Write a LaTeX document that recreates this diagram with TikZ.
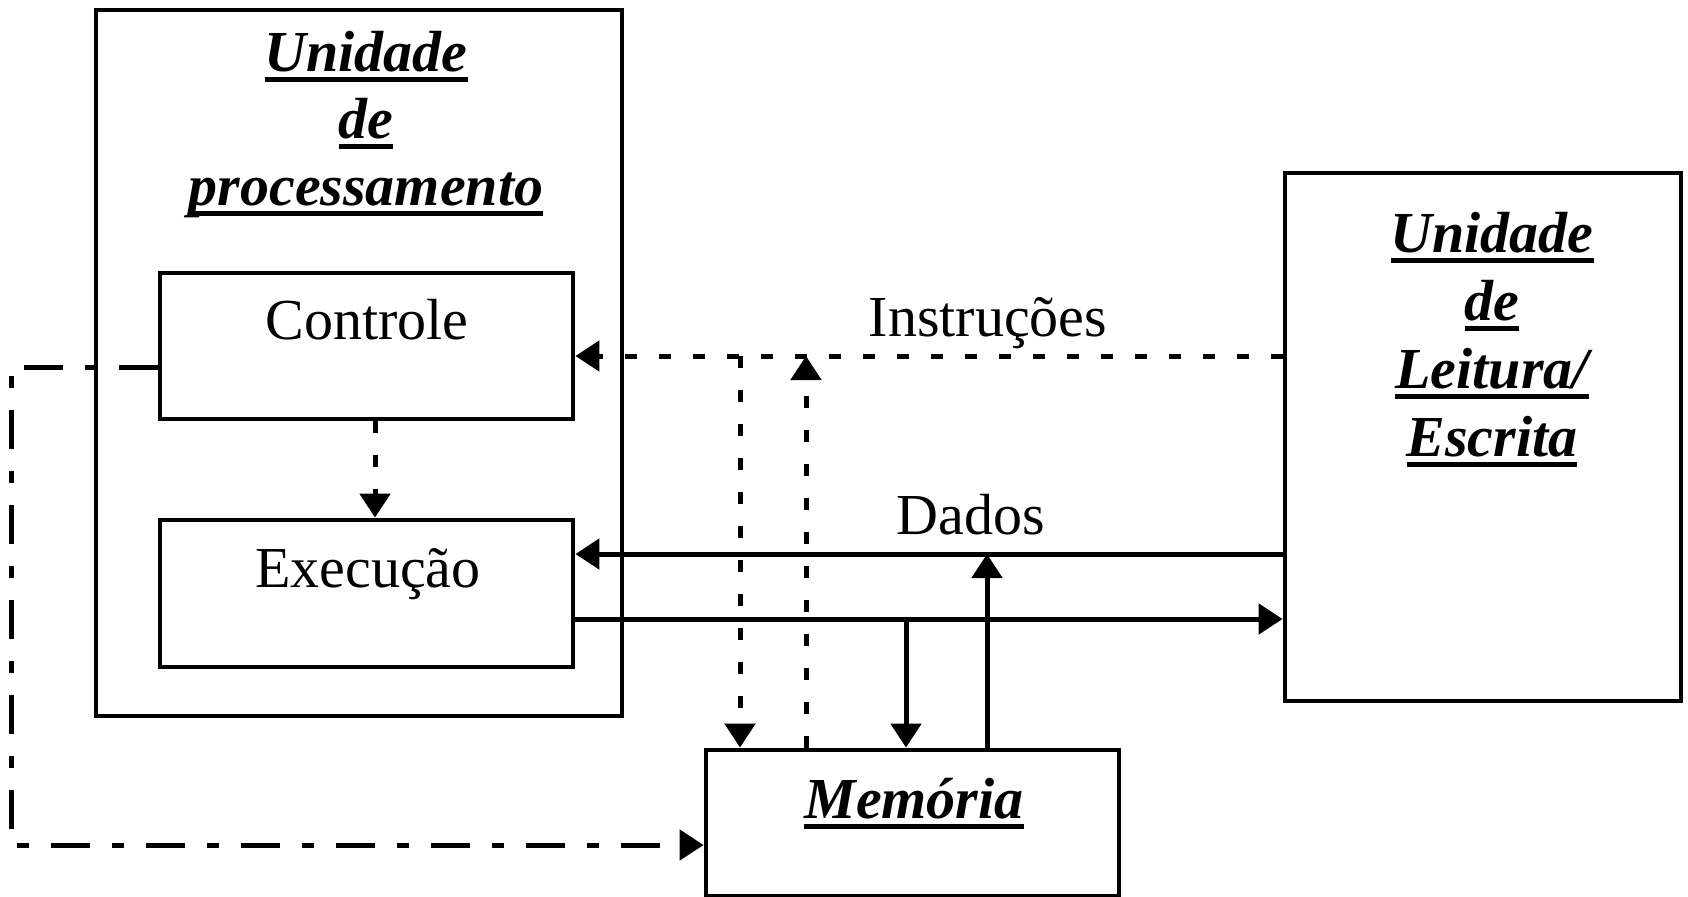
\documentclass[tikz,border=0pt]{standalone}
\usepackage{fontspec}
\setmainfont{Liberation Serif}
\usetikzlibrary{arrows.meta}

% underlined heading word with a heavy rule under the baseline
\newcommand\ulbox[1]{\setbox0\hbox{#1}\rlap{\rule[-5.6pt]{\wd0}{2.4pt}}\box0}

\begin{document}
\begin{tikzpicture}[x=0.5pt,y=-0.5pt,
  box/.style={draw,line width=2.4pt,rectangle,inner sep=0pt},
  lbl/.style={inner sep=0pt,anchor=base,font=\fontsize{29}{34}\selectfont},
  ttl/.style={inner sep=0pt,anchor=base,font=\fontsize{29}{34}\selectfont\bfseries\itshape},
  conn/.style={line width=2.5pt,-{Triangle[length=12pt,width=15pt]}},
  dotline/.style={conn,dash pattern=on 6pt off 11pt},
  dashdotline/.style={conn,dash pattern=on 19.5pt off 11pt on 6pt off 11pt},
]
\useasboundingbox (0,0) rectangle (1688,896);

% boxes
\node[box,minimum width=263pt,minimum height=353pt] (pu) at (359,363) {};
\node[box,minimum width=206.5pt,minimum height=73pt] (ctrl) at (366.5,346) {};
\node[box,minimum width=206.5pt,minimum height=73.5pt] (exec) at (366.5,593.5) {};
\node[box,minimum width=198pt,minimum height=264pt] (rw) at (1483,437) {};
\node[box,minimum width=206.5pt,minimum height=73pt] (mem) at (912.5,823) {};

% headings
\node[ttl] (pu1) at (366,71) {\ulbox{Unidade}};
\node[ttl] (pu2) at (366,138) {\ulbox{de}};
\node[ttl] (pu3) at (366,205) {\ulbox{processamento}};
\node[ttl] (rw1) at (1492,252) {\ulbox{Unidade}};
\node[ttl] (rw2) at (1492,320) {\ulbox{de}};
\node[ttl] (rw3) at (1492,388) {\ulbox{Leitura/}};
\node[ttl] (rw4) at (1492,456) {\ulbox{Escrita}};
\node[ttl] (memt) at (914,818) {\ulbox{Memória}};

% labels
\node[lbl] (ctrlt) at (367,339) {Controle};
\node[lbl] (exect) at (368,587) {Execução};
\node[lbl] (instr) at (988,336) {Instruções};
\node[lbl] (dados) at (971,534) {Dados};

% routing points
\coordinate (iy) at (0,356);
\coordinate (ibr) at (740,356);
\coordinate (iup) at (806,356);
\coordinate (cx) at (375,0);
\coordinate (dy) at (0,554);
\coordinate (ly) at (0,619);
\coordinate (dn) at (906,619);
\coordinate (up) at (987,554);
\coordinate (dd1) at (11,367);
\coordinate (dd2) at (11,845);

% instruction paths
\draw[dotline] (rw.west |- iy) -- (ctrl.east |- iy);
\draw[dotline] (ibr) -- (ibr |- mem.north);
\draw[dotline] (iup |- mem.north) -- (iup);
\draw[dotline] (ctrl.south -| cx) -- (exec.north -| cx);

% data paths
\draw[conn] (rw.west |- dy) -- (exec.east |- dy);
\draw[conn] (exec.east |- ly) -- (rw.west |- ly);
\draw[conn] (dn) -- (dn |- mem.north);
\draw[conn] (up |- mem.north) -- (up);

% control path
\draw[dashdotline] (ctrl.west |- dd1) -- (dd1) -- (dd2) -- (mem.west |- dd2);
\end{tikzpicture}
\end{document}
